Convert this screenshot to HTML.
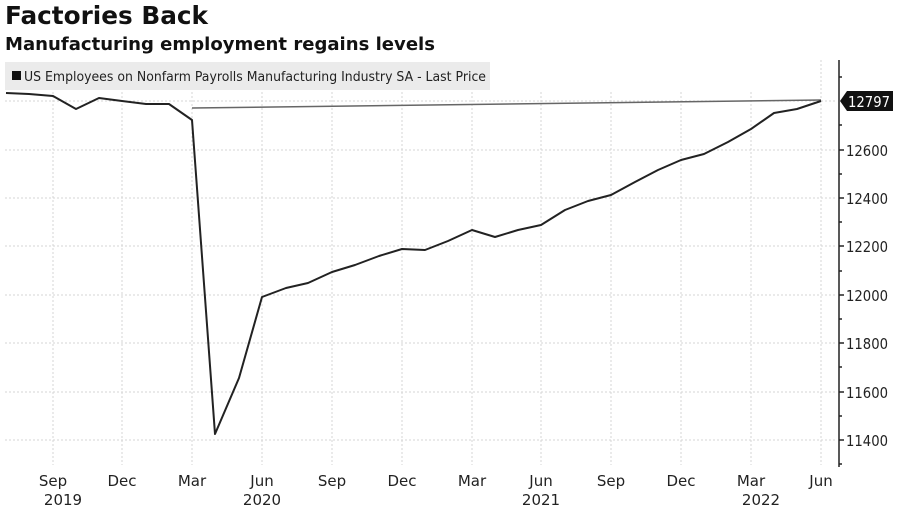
<!DOCTYPE html>
<html><head><meta charset="utf-8"><style>
html,body{margin:0;padding:0;background:#fff;}
svg{display:block;font-family:"DejaVu Sans","Liberation Sans",sans-serif;}
</style></head><body>
<svg width="900" height="510" viewBox="0 0 900 510">
<text x="5" y="24" font-size="25" font-weight="bold" fill="#111" textLength="203" lengthAdjust="spacingAndGlyphs">Factories Back</text>
<text x="5" y="50" font-size="17.5" font-weight="bold" fill="#111" textLength="430" lengthAdjust="spacingAndGlyphs">Manufacturing employment regains levels</text>
<rect x="5" y="62" width="485" height="28" fill="#ebebeb"/>
<rect x="12" y="71" width="9" height="9" fill="#111"/>
<text x="24" y="81" font-size="13" fill="#222" textLength="462" lengthAdjust="spacingAndGlyphs">US Employees on Nonfarm Payrolls Manufacturing Industry SA - Last Price</text>
<g stroke="#d4d4d4" stroke-dasharray="2,2" stroke-width="1">
<line x1="5" y1="101" x2="835" y2="101"/>
<line x1="5" y1="150" x2="835" y2="150"/>
<line x1="5" y1="198" x2="835" y2="198"/>
<line x1="5" y1="246" x2="835" y2="246"/>
<line x1="5" y1="295" x2="835" y2="295"/>
<line x1="5" y1="343" x2="835" y2="343"/>
<line x1="5" y1="392" x2="835" y2="392"/>
<line x1="5" y1="440" x2="835" y2="440"/>
<line x1="53" y1="92" x2="53" y2="465"/>
<line x1="122" y1="92" x2="122" y2="465"/>
<line x1="192" y1="92" x2="192" y2="465"/>
<line x1="262" y1="92" x2="262" y2="465"/>
<line x1="332" y1="92" x2="332" y2="465"/>
<line x1="402" y1="92" x2="402" y2="465"/>
<line x1="472" y1="92" x2="472" y2="465"/>
<line x1="541" y1="92" x2="541" y2="465"/>
<line x1="611" y1="92" x2="611" y2="465"/>
<line x1="681" y1="92" x2="681" y2="465"/>
<line x1="751" y1="92" x2="751" y2="465"/>
<line x1="821" y1="60" x2="821" y2="465"/>
</g>
<line x1="192" y1="108" x2="821" y2="100" stroke="#666" stroke-width="1.5"/>
<polyline fill="none" stroke="#222" stroke-width="2" stroke-linejoin="round" points="6,93 29,94 53,96 76,109 99,98 122,101 146,104 169,104 192,120 215,434 239,378 262,297 286,288 308,283 332,272 355,265 379,256 402,249 425,250 448,241 472,230 495,237 518,230 541,225 565,210 588,201 611,195 635,182 658,170 681,160 704,154 728,142 751,129 774,113 797,109 821,101"/>
<line x1="839" y1="60" x2="839" y2="467" stroke="#222" stroke-width="1.5"/>
<g stroke="#222" stroke-width="1.5">
<line x1="839" y1="150" x2="844" y2="150"/><line x1="839" y1="198" x2="844" y2="198"/><line x1="839" y1="246" x2="844" y2="246"/><line x1="839" y1="295" x2="844" y2="295"/><line x1="839" y1="343" x2="844" y2="343"/><line x1="839" y1="392" x2="844" y2="392"/><line x1="839" y1="440" x2="844" y2="440"/>
<line x1="839" y1="77" x2="842" y2="77"/><line x1="839" y1="125" x2="842" y2="125"/><line x1="839" y1="174" x2="842" y2="174"/><line x1="839" y1="222" x2="842" y2="222"/><line x1="839" y1="271" x2="842" y2="271"/><line x1="839" y1="319" x2="842" y2="319"/><line x1="839" y1="367" x2="842" y2="367"/><line x1="839" y1="416" x2="842" y2="416"/><line x1="839" y1="464" x2="842" y2="464"/>
</g>
<g font-size="15" fill="#222">
<text x="846" y="156" textLength="42" lengthAdjust="spacingAndGlyphs">12600</text><text x="846" y="204" textLength="42" lengthAdjust="spacingAndGlyphs">12400</text><text x="846" y="252" textLength="42" lengthAdjust="spacingAndGlyphs">12200</text><text x="846" y="301" textLength="42" lengthAdjust="spacingAndGlyphs">12000</text><text x="846" y="349" textLength="42" lengthAdjust="spacingAndGlyphs">11800</text><text x="846" y="398" textLength="42" lengthAdjust="spacingAndGlyphs">11600</text><text x="846" y="446" textLength="42" lengthAdjust="spacingAndGlyphs">11400</text>
</g>
<polygon points="840,101 847,91 893,91 893,111 847,111" fill="#111"/>
<text x="848" y="107" font-size="15" fill="#fff" textLength="42" lengthAdjust="spacingAndGlyphs">12797</text>
<g font-size="15" fill="#222" text-anchor="middle">
<text x="53" y="486">Sep</text><text x="122" y="486">Dec</text><text x="192" y="486">Mar</text><text x="262" y="486">Jun</text><text x="332" y="486">Sep</text><text x="402" y="486">Dec</text><text x="472" y="486">Mar</text><text x="541" y="486">Jun</text><text x="611" y="486">Sep</text><text x="681" y="486">Dec</text><text x="751" y="486">Mar</text><text x="821" y="486">Jun</text>
<text x="63" y="505">2019</text><text x="262" y="505">2020</text><text x="541" y="505">2021</text><text x="761" y="505">2022</text>
</g>
</svg>
</body></html>
